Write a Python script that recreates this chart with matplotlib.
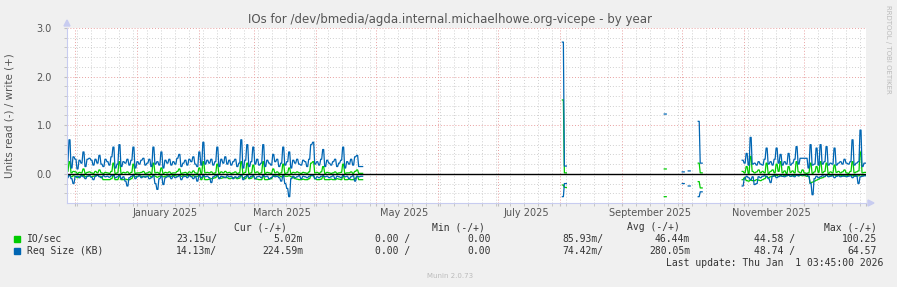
import datetime as dt
import numpy as np
import matplotlib
matplotlib.use('Agg')
import matplotlib.pyplot as plt
import matplotlib.dates as mdates
from matplotlib.patches import Rectangle

# --- data (daily averages, days counted from graph start) ---
graph_start = dt.datetime(2024, 11, 27, 3, 45)
graph_days = 400

seg1_start = 0
io_write_1 = [0.05, 0.25, 0.02, 0.05, 0.04, 0.01, 0.03, 0.02, 0.10, 0.01,
              0.03, 0.04, 0.02, 0.01, 0.05, 0.02, 0.08, 0.02, 0.01, 0.03,
              0.02, 0.01, 0.05, 0.22, 0.01, 0.02, 0.25, 0.01, 0.03, 0.02,
              0.04, 0.01, 0.03, 0.20, 0.01, 0.02, 0.02, 0.03, 0.05, 0.01,
              0.02, 0.04, 0.01, 0.22, 0.02, 0.03, 0.01, 0.12, 0.01, 0.03,
              0.02, 0.04, 0.01, 0.02, 0.02, 0.05, 0.10, 0.01, 0.02, 0.03,
              0.01, 0.04, 0.02, 0.06, 0.02, 0.01, 0.12, 0.01, 0.25, 0.02,
              0.03, 0.02, 0.04, 0.01, 0.02, 0.20, 0.01, 0.04, 0.02, 0.05,
              0.02, 0.03, 0.01, 0.02, 0.04, 0.01, 0.02, 0.25, 0.01, 0.03,
              0.22, 0.01, 0.02, 0.18, 0.02, 0.04, 0.01, 0.02, 0.25, 0.01,
              0.03, 0.02, 0.01, 0.10, 0.02, 0.04, 0.01, 0.02, 0.20, 0.01,
              0.02, 0.12, 0.01, 0.03, 0.02, 0.04, 0.02, 0.01, 0.03, 0.02,
              0.01, 0.04, 0.22, 0.25, 0.02, 0.03, 0.01, 0.04, 0.15, 0.01,
              0.03, 0.02, 0.01, 0.02, 0.04, 0.01, 0.02, 0.03, 0.20, 0.01,
              0.02, 0.02, 0.04, 0.01, 0.05, 0.08, 0.01, 0.01]
io_read_1 = [-0.05, -0.03, -0.06, -0.04, -0.05, -0.08, -0.05, -0.04, -0.03, -0.06,
             -0.05, -0.04, -0.06, -0.05, -0.04, -0.03, -0.05, -0.06, -0.12, -0.12,
             -0.12, -0.12, -0.10, -0.03, -0.12, -0.12, -0.05, -0.12, -0.12, -0.11,
             -0.12, -0.12, -0.10, -0.04, -0.06, -0.05, -0.04, -0.05, -0.06, -0.05,
             -0.05, -0.04, -0.06, -0.03, -0.05, -0.07, -0.05, -0.04, -0.06, -0.05,
             -0.04, -0.06, -0.05, -0.03, -0.04, -0.05, -0.03, -0.05, -0.04, -0.05,
             -0.04, -0.03, -0.05, -0.04, -0.06, -0.05, -0.03, -0.12, -0.05, -0.12,
             -0.12, -0.11, -0.10, -0.09, -0.08, -0.04, -0.08, -0.09, -0.08, -0.07,
             -0.08, -0.10, -0.09, -0.08, -0.08, -0.10, -0.09, -0.03, -0.08, -0.10,
             -0.04, -0.10, -0.09, -0.04, -0.10, -0.11, -0.12, -0.12, -0.05, -0.12,
             -0.12, -0.11, -0.10, -0.05, -0.04, -0.05, -0.04, -0.06, -0.03, -0.05,
             -0.05, -0.04, -0.06, -0.08, -0.10, -0.11, -0.12, -0.12, -0.11, -0.12,
             -0.12, -0.10, -0.04, -0.03, -0.10, -0.12, -0.12, -0.11, -0.05, -0.12,
             -0.12, -0.12, -0.11, -0.12, -0.12, -0.10, -0.11, -0.12, -0.05, -0.12,
             -0.12, -0.11, -0.12, -0.12, -0.10, -0.05, -0.12, -0.12]
req_write_1 = [0.25, 0.70, 0.12, 0.35, 0.30, 0.10, 0.28, 0.22, 0.45, 0.15,
               0.30, 0.32, 0.28, 0.18, 0.30, 0.22, 0.38, 0.20, 0.15, 0.30,
               0.25, 0.18, 0.35, 0.55, 0.12, 0.20, 0.60, 0.15, 0.25, 0.22,
               0.30, 0.18, 0.28, 0.55, 0.12, 0.25, 0.20, 0.28, 0.32, 0.18,
               0.22, 0.30, 0.15, 0.55, 0.20, 0.25, 0.18, 0.45, 0.12, 0.28,
               0.22, 0.30, 0.18, 0.25, 0.20, 0.32, 0.40, 0.15, 0.22, 0.28,
               0.18, 0.30, 0.25, 0.35, 0.20, 0.15, 0.45, 0.18, 0.65, 0.20,
               0.28, 0.22, 0.30, 0.18, 0.25, 0.55, 0.15, 0.30, 0.22, 0.35,
               0.20, 0.28, 0.18, 0.25, 0.30, 0.15, 0.22, 0.70, 0.12, 0.28,
               0.60, 0.15, 0.25, 0.55, 0.20, 0.30, 0.18, 0.22, 0.60, 0.15,
               0.28, 0.22, 0.18, 0.40, 0.25, 0.30, 0.15, 0.22, 0.55, 0.18,
               0.25, 0.45, 0.12, 0.28, 0.22, 0.30, 0.20, 0.18, 0.28, 0.25,
               0.15, 0.30, 0.60, 0.65, 0.20, 0.25, 0.18, 0.30, 0.50, 0.15,
               0.28, 0.22, 0.18, 0.25, 0.30, 0.15, 0.22, 0.28, 0.55, 0.12,
               0.25, 0.20, 0.30, 0.18, 0.35, 0.38, 0.15, 0.15]
req_read_1 = [-0.08, -0.03, -0.10, -0.20, -0.06, -0.05, -0.08, -0.04, -0.06, -0.10,
              -0.05, -0.04, -0.07, -0.12, -0.05, -0.03, -0.06, -0.08, -0.04, -0.06,
              -0.05, -0.07, -0.04, -0.02, -0.08, -0.06, -0.03, -0.10, -0.06, -0.15,
              -0.25, -0.08, -0.05, -0.03, -0.10, -0.06, -0.04, -0.08, -0.05, -0.07,
              -0.05, -0.10, -0.08, -0.04, -0.20, -0.32, -0.10, -0.05, -0.22, -0.08,
              -0.06, -0.04, -0.10, -0.05, -0.08, -0.06, -0.04, -0.12, -0.06, -0.05,
              -0.08, -0.04, -0.06, -0.10, -0.05, -0.15, -0.04, -0.08, -0.03, -0.06,
              -0.05, -0.08, -0.18, -0.06, -0.04, -0.03, -0.10, -0.05, -0.06, -0.08,
              -0.04, -0.06, -0.05, -0.10, -0.06, -0.08, -0.05, -0.02, -0.12, -0.06,
              -0.03, -0.08, -0.05, -0.04, -0.10, -0.06, -0.05, -0.08, -0.03, -0.06,
              -0.05, -0.10, -0.08, -0.04, -0.06, -0.05, -0.08, -0.15, -0.04, -0.20,
              -0.30, -0.47, -0.10, -0.05, -0.08, -0.06, -0.04, -0.10, -0.05, -0.06,
              -0.08, -0.05, -0.03, -0.04, -0.10, -0.06, -0.08, -0.05, -0.04, -0.06,
              -0.05, -0.08, -0.06, -0.04, -0.10, -0.05, -0.06, -0.08, -0.03, -0.06,
              -0.05, -0.10, -0.06, -0.04, -0.15, -0.05, -0.06, -0.05]

# sparse readings during the summer/autumn gap
gap_days = [248, 249, 299, 308, 311, 316, 317]
io_write_gap = [1.52, 0.02, 0.10, np.nan, np.nan, 0.22, 0.02]
io_read_gap = [-0.23, -0.28, -0.47, np.nan, np.nan, -0.16, -0.29]
req_write_gap = [2.71, 0.16, 1.23, 0.04, 0.06, 1.08, 0.22]
req_read_gap = [-0.47, -0.20, -0.62, -0.20, -0.25, -0.47, -0.37]

seg2_start = 338
io_write_2 = [0.05, 0.02, 0.15, 0.01, 0.36, 0.05, 0.02, 0.04, 0.08, 0.02,
              0.05, 0.02, 0.22, 0.01, 0.05, 0.08, 0.02, 0.20, 0.05, 0.25,
              0.02, 0.06, 0.01, 0.15, 0.03, 0.06, 0.02, 0.25, 0.04, 0.02,
              0.08, 0.02, 0.01, 0.02, 0.22, 0.01, 0.04, 0.15, 0.03, 0.25,
              0.02, 0.05, 0.22, 0.01, 0.04, 0.02, 0.18, 0.03, 0.05, 0.02,
              0.04, 0.08, 0.02, 0.01, 0.05, 0.25, 0.02, 0.04, 0.06, 0.45, 0.02, 0.03]
io_read_2 = [-0.12, -0.08, -0.14, -0.15, -0.13, -0.14, -0.14, -0.12, -0.13, -0.14,
             -0.12, -0.10, -0.05, -0.08, -0.06, -0.05, -0.04, -0.03, -0.05, -0.04,
             -0.05, -0.03, -0.04, -0.02, -0.05, -0.04, -0.03, -0.02, -0.04, -0.03,
             -0.04, -0.03, -0.05, -0.05, -0.19, -0.17, -0.15, -0.13, -0.11, -0.09,
             -0.08, -0.06, -0.03, -0.05, -0.04, -0.03, -0.02, -0.04, -0.03, -0.04,
             -0.03, -0.05, -0.04, -0.03, -0.02, -0.04, -0.03, -0.05, -0.04, -0.02, -0.03, -0.03]
req_write_2 = [0.28, 0.22, 0.42, 0.18, 0.75, 0.20, 0.22, 0.18, 0.25, 0.20,
               0.18, 0.30, 0.53, 0.20, 0.25, 0.18, 0.30, 0.53, 0.22, 0.40,
               0.18, 0.25, 0.20, 0.42, 0.18, 0.22, 0.30, 0.56, 0.20, 0.32,
               0.32, 0.32, 0.32, 0.12, 0.60, 0.18, 0.20, 0.53, 0.18, 0.60,
               0.20, 0.25, 0.56, 0.18, 0.22, 0.20, 0.53, 0.18, 0.22, 0.25,
               0.20, 0.30, 0.22, 0.20, 0.25, 0.70, 0.18, 0.22, 0.25, 0.90, 0.15, 0.22]
req_read_2 = [-0.25, -0.10, -0.05, -0.08, -0.12, -0.06, -0.22, -0.20, -0.06, -0.08,
              -0.05, -0.04, -0.06, -0.10, -0.18, -0.05, -0.04, -0.08, -0.06, -0.04,
              -0.05, -0.06, -0.04, -0.03, -0.05, -0.04, -0.06, -0.03, -0.04, -0.02,
              -0.02, -0.02, -0.02, -0.05, -0.20, -0.43, -0.10, -0.05, -0.08, -0.06,
              -0.04, -0.05, -0.03, -0.06, -0.05, -0.04, -0.08, -0.05, -0.04, -0.06,
              -0.05, -0.04, -0.06, -0.05, -0.04, -0.08, -0.05, -0.04, -0.20, -0.06, -0.05, -0.04]

legend_names = ['IO/sec', 'Req Size (KB)']
legend_cur = [('23.15u/', '5.02m'), ('14.13m/', '224.59m')]
legend_min = [('0.00 /', '0.00'), ('0.00 /', '0.00')]
legend_avg = [('85.93m/', '46.44m'), ('74.42m/', '280.05m')]
legend_max = [('44.58 /', '100.25'), ('48.74 /', '64.57')]

GREEN = '#00CC00'
BLUE = '#0066B3'
W, H = 897, 287


def step_xy(start_days, values):
    # each daily value holds for half a day, then slants to the next one;
    # a value with no follower is drawn as a full-day dash
    xs, ys = [], []
    days = list(start_days)
    for i, (d, v) in enumerate(zip(days, values)):
        if i > 0 and d != days[i - 1] + 1:
            xs.append(np.nan)
            ys.append(np.nan)
        last = i == len(days) - 1 or days[i + 1] != d + 1
        xs += [d, d + (1.0 if last else 0.5)]
        ys += [v, v]
    x0 = mdates.date2num(graph_start)
    return x0 + np.array(xs, dtype=float), np.array(ys, dtype=float)


def series(part1, gap, part2):
    days = (list(range(seg1_start, seg1_start + len(part1))) + gap_days
            + list(range(seg2_start, seg2_start + len(part2))))
    return step_xy(days, list(part1) + list(gap) + list(part2))


def fx(x):
    return x / W


def fy(y):
    return 1 - y / H


fig = plt.figure(figsize=(W / 100, H / 100), dpi=100, facecolor='#F0F0F0')
ax = fig.add_axes([fx(67), fy(203), (866 - 67) / W, 175 / H])
ax.set_facecolor('white')

x0 = mdates.date2num(graph_start)
ax.set_xlim(x0, x0 + graph_days)
ax.set_ylim(-0.6, 3.0)

# grid
ax.xaxis.set_major_locator(mdates.MonthLocator(bymonthday=1))
ax.xaxis.set_minor_locator(mdates.WeekdayLocator(byweekday=mdates.MO))
ax.xaxis.set_major_formatter(plt.NullFormatter())
ax.set_yticks([0, 1, 2, 3])
ax.set_yticks(np.arange(-0.4, 3.0, 0.2), minor=True)
ax.set_yticklabels(['0.0', '1.0', '2.0', '3.0'])
ax.grid(which='minor', color='#D0D0D0', linestyle=(0, (1, 2)), linewidth=0.7)
ax.grid(which='major', color='#E8A0A0', linestyle=(0, (1, 2)), linewidth=0.7)
ax.tick_params(which='both', length=2, color='#C0C0C0', labelsize=7,
               labelcolor='#555555')
ax.tick_params(axis='y', which='major', pad=9)
for s in ['top', 'right']:
    ax.spines[s].set_visible(False)
for s in ['left', 'bottom']:
    ax.spines[s].set_color('#C8CCF0')
    ax.spines[s].set_linewidth(0.8)

# month labels at mid-month
for m in [(2025, 1), (2025, 3), (2025, 5), (2025, 7), (2025, 9), (2025, 11)]:
    d = dt.datetime(m[0], m[1], 15)
    ax.text(mdates.date2num(d), -0.055, d.strftime('%B %Y'),
            transform=ax.get_xaxis_transform(), ha='center', va='center',
            fontsize=7, color='#555555')

# data lines
for part1, gap, part2, col in [(io_write_1, io_write_gap, io_write_2, GREEN),
                               (io_read_1, io_read_gap, io_read_2, GREEN),
                               (req_write_1, req_write_gap, req_write_2, BLUE),
                               (req_read_1, req_read_gap, req_read_2, BLUE)]:
    xs, ys = series(part1, gap, part2)
    ax.plot(xs, ys, color=col, linewidth=0.9, clip_on=True)

ax.axhline(0, color='black', linewidth=1.0)

# axis arrows
fig.patches.append(plt.Polygon([[fx(64), fy(26)], [fx(70), fy(26)], [fx(67), fy(20)]],
                               closed=True, color='#C8CCF0', transform=fig.transFigure))
fig.patches.append(plt.Polygon([[fx(868), fy(200)], [fx(868), fy(206)], [fx(874), fy(203)]],
                               closed=True, color='#C8CCF0', transform=fig.transFigure))

# titles
fig.text(fx(450), fy(19), 'IOs for /dev/bmedia/agda.internal.michaelhowe.org-vicepe - by year',
         ha='center', va='center', fontsize=8.5, color='#555555')
fig.text(fx(10), fy(116), 'Units read (-) / write (+)', rotation=90,
         ha='center', va='center', fontsize=7.5, color='#555555')
fig.text(fx(888), fy(5), 'RRDTOOL / TOBI OETIKER', rotation=270,
         ha='center', va='top', fontsize=5, color='#BBBBBB')
fig.text(fx(450), fy(276), 'Munin 2.0.73', ha='center', va='center',
         fontsize=5, color='#BBBBBB')

# legend block
mono = dict(family='DejaVu Sans Mono', fontsize=7, color='#333333', va='center')
for txt, xr in [('Cur (-/+)', 287), ('Min (-/+)', 485), ('Avg (-/+)', 680), ('Max (-/+)', 877)]:
    fig.text(fx(xr), fy(227), txt, ha='right', **mono)
for i, (name, col) in enumerate(zip(legend_names, [GREEN, BLUE])):
    y = 239 + 12 * i
    fig.patches.append(Rectangle((fx(14), fy(y + 3)), 6 / W, 6 / H, color=col,
                                 transform=fig.transFigure))
    fig.text(fx(27), fy(y), name, ha='left', **mono)
    cols = [legend_cur[i], legend_min[i], legend_avg[i], legend_max[i]]
    rights = [(217, 303), (410, 491), (603, 690), (795, 877)]
    for (a, b), (ra, rb) in zip(cols, rights):
        fig.text(fx(ra), fy(y), a, ha='right', **mono)
        fig.text(fx(rb), fy(y), b, ha='right', **mono)
fig.text(fx(883), fy(263), 'Last update: Thu Jan  1 03:45:00 2026', ha='right', **mono)

fig.savefig('out.png', dpi=100, facecolor=fig.get_facecolor())
